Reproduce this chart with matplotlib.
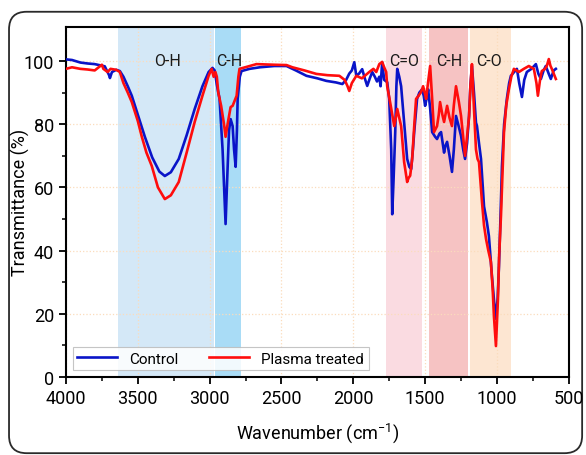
import numpy as np
import matplotlib
matplotlib.use('Agg')
import matplotlib.pyplot as plt
from matplotlib.patches import FancyBboxPatch

plt.rcParams['font.family'] = ['Roboto', 'DejaVu Sans']
plt.rcParams['mathtext.fontset'] = 'custom'
plt.rcParams['mathtext.rm'] = 'Roboto'

# Control spectrum (wavenumber, transmittance)
wn_control = [4000, 3958, 3900, 3850, 3800, 3760, 3730, 3700, 3694, 3680, 3650, 3625, 3600, 3570,
              3542, 3500, 3451, 3400, 3350, 3312, 3270, 3215, 3160, 3104, 3050, 3007, 2980, 2965,
              2950, 2931, 2910, 2895, 2889, 2880, 2865, 2854, 2840, 2830, 2819, 2810, 2805, 2790,
              2778, 2722, 2650, 2550, 2465, 2400, 2326, 2250, 2188, 2120, 2076, 2050, 2028, 2010,
              1993, 1979, 1960, 1938, 1920, 1903, 1885, 1868, 1850, 1835, 1819, 1810, 1799, 1785,
              1764, 1750, 1736, 1729, 1720, 1708, 1700, 1694, 1680, 1667, 1646, 1625, 1610, 1597,
              1585, 1576, 1556, 1540, 1521, 1510, 1500, 1490, 1479, 1465, 1451, 1430, 1417, 1400,
              1389, 1375, 1368, 1360, 1347, 1330, 1313, 1300, 1285, 1270, 1250, 1235, 1222, 1208,
              1194, 1185, 1174, 1160, 1146, 1139, 1125, 1111, 1100, 1090, 1070, 1056, 1035, 1020,
              1007, 995, 986, 975, 965, 950, 931, 915, 903, 880, 861, 845, 826, 810, 792, 760,
              729, 712, 694, 675, 660, 640, 625, 605, 590]
t_control = [100.5, 100.3, 99.5, 99.2, 99.0, 98.6, 98.3, 95.5, 94.6, 96.5, 97.2, 96.8, 95.0, 92.0,
             89.0, 83.0, 76.0, 69.5, 65.0, 63.6, 64.8, 69.0, 76.5, 84.8, 92.0, 96.5, 97.8, 97.0,
             92.5, 88.0, 72.0, 55.0, 48.4, 60.0, 78.0, 81.6, 79.4, 72.0, 66.5, 78.0, 88.0, 95.0,
             96.8, 97.5, 98.0, 98.4, 98.4, 97.0, 95.3, 94.5, 93.7, 93.2, 92.7, 94.0, 96.0, 97.0,
             99.6, 95.3, 96.0, 97.4, 94.5, 92.1, 94.5, 96.5, 95.0, 93.5, 95.0, 92.0, 99.6, 94.0,
             93.3, 88.0, 72.0, 51.5, 62.0, 77.5, 92.0, 97.5, 95.0, 92.0, 80.7, 69.0, 66.5, 65.8,
             72.0, 77.5, 88.0, 90.0, 91.0, 89.0, 85.8, 88.0, 91.0, 85.0, 77.5, 76.0, 75.3, 77.0,
             77.5, 73.0, 71.0, 73.0, 74.4, 70.0, 64.9, 72.0, 82.6, 80.0, 76.3, 72.0, 69.0, 74.0,
             82.6, 92.0, 98.4, 90.0, 80.5, 79.4, 74.0, 69.0, 61.0, 54.0, 49.0, 44.6, 32.0, 24.0,
             18.4, 25.0, 35.0, 51.0, 66.8, 80.0, 88.0, 93.0, 95.3, 96.5, 97.5, 93.0, 88.6, 94.0,
             96.5, 97.5, 99.0, 96.0, 94.3, 97.0, 98.4, 96.0, 94.3, 97.0, 97.5]

# Plasma treated spectrum
wn_plasma = [4000, 3958, 3900, 3850, 3800, 3750, 3740, 3710, 3690, 3650, 3625, 3600, 3570, 3542,
             3500, 3472, 3440, 3403, 3360, 3312, 3270, 3215, 3160, 3104, 3050, 3007, 2986, 2972,
             2960, 2950, 2940, 2920, 2900, 2889, 2875, 2854, 2840, 2812, 2800, 2792, 2674, 2550,
             2465, 2424, 2340, 2257, 2180, 2097, 2060, 2040, 2028, 2010, 1979, 1940, 1889, 1860,
             1840, 1819, 1799, 1785, 1771, 1764, 1740, 1715, 1704, 1694, 1680, 1667, 1646, 1625,
             1615, 1604, 1590, 1575, 1563, 1545, 1528, 1514, 1500, 1493, 1480, 1465, 1451, 1438,
             1417, 1405, 1396, 1380, 1368, 1347, 1330, 1313, 1300, 1285, 1265, 1250, 1235, 1222,
             1208, 1194, 1185, 1174, 1160, 1146, 1135, 1125, 1115, 1104, 1090, 1076, 1060, 1042,
             1030, 1021, 1007, 993, 985, 972, 951, 935, 917, 900, 882, 847, 813, 778, 743, 725,
             715, 700, 688, 665, 653, 639, 628, 618, 605, 590]
t_plasma = [97.5, 98.0, 97.5, 97.3, 97.0, 98.8, 97.5, 96.5, 97.5, 97.2, 96.5, 93.0, 90.0, 87.0,
            81.0, 76.0, 71.0, 66.8, 60.0, 56.3, 57.5, 61.7, 71.0, 80.7, 89.0, 95.3, 97.5, 95.0,
            96.5, 95.0, 90.0, 85.8, 80.0, 76.0, 80.0, 85.4, 85.8, 89.0, 95.0, 97.5, 99.0, 98.8,
            98.7, 98.0, 97.0, 95.9, 95.5, 95.3, 94.0, 92.0, 90.5, 93.0, 95.3, 94.5, 96.5, 97.5,
            96.5, 99.0, 99.7, 98.0, 96.5, 92.0, 86.0, 79.4, 82.0, 84.8, 82.0, 79.4, 68.0, 61.7,
            63.0, 63.7, 69.0, 80.0, 88.0, 89.0, 90.2, 92.0, 89.5, 88.0, 93.0, 98.4, 88.0, 77.5,
            79.4, 83.0, 87.0, 83.0, 80.7, 85.8, 82.0, 79.4, 86.0, 92.0, 87.0, 82.6, 76.0, 70.0,
            76.0, 82.6, 92.0, 99.0, 85.0, 72.0, 69.0, 68.0, 62.0, 55.3, 48.0, 43.7, 40.0, 36.4,
            28.0, 19.3, 9.8, 24.7, 38.0, 51.0, 77.5, 86.0, 91.0, 95.0, 97.5, 96.5, 97.5, 98.4,
            97.5, 93.0, 89.0, 94.0, 96.8, 97.5, 98.4, 100.6, 98.5, 97.5, 96.0, 94.3]

# shaded bands: (start, end, colour, label)
band_lo = [3640, 2960, 1770, 1470, 1185]
band_hi = [2970, 2780, 1525, 1200, 905]
band_col = ['#d4e8f7', '#a9dcf6', '#fadbe1', '#f6c3c3', '#fde6d2']
band_lab = ['O-H', 'C-H', 'C=O', 'C-H', 'C-O']
band_lab_x = [3290, 2862, 1648, 1335, 1058]

fig = plt.figure(figsize=(5.86, 4.56), dpi=100)
ax = fig.add_axes([0.1126, 0.171, 0.858, 0.768])

# outer rounded frame
frame = FancyBboxPatch((0.0154, 0.004), 0.978, 0.968,
                       boxstyle='round,pad=0,rounding_size=0.03', mutation_aspect=586 / 456,
                       transform=fig.transFigure, facecolor='none', edgecolor='#2a2a2a',
                       linewidth=1.3, zorder=-5)
fig.patches.append(frame)

for lo, hi, c, lab, lx in zip(band_lo, band_hi, band_col, band_lab, band_lab_x):
    ax.axvspan(hi, lo, color=c, lw=0, zorder=0)
    ax.text(lx, 100, lab, ha='center', va='center', fontsize=11.5, color='#1a1a1a', zorder=3)

ax.plot(wn_control, t_control, color='#0a14c8', lw=1.9, label='Control', zorder=4)
ax.plot(wn_plasma, t_plasma, color='#ff0d0d', lw=1.9, label='Plasma treated', zorder=5)

ax.set_xlim(4000, 500)
ax.set_ylim(0, 110.8)
ax.set_xticks(np.arange(4000, 499, -500))
ax.set_xticks(np.arange(4000, 499, -250), minor=True)
ax.set_yticks(np.arange(0, 101, 20))
ax.set_yticks(np.arange(0, 101, 10), minor=True)
ax.grid(True, which='major', color='#fbdcbc', linestyle=':', linewidth=0.9, zorder=1)
ax.set_axisbelow(True)

ax.tick_params(which='major', direction='out', length=5, width=1.3, labelsize=13)
ax.tick_params(which='minor', direction='out', length=3, width=1.1)
for s in ax.spines.values():
    s.set_linewidth(1.5)

ax.set_xlabel('Wavenumber (cm$^{-1}$)', fontsize=13, labelpad=10)
ax.set_ylabel('Transmittance (%)', fontsize=13)
ax.yaxis.set_label_coords(-0.072, 0.5)

leg = ax.legend(loc='lower left', ncol=2, fontsize=11, frameon=True, fancybox=False,
                edgecolor='#bbbbbb', framealpha=0.85, borderaxespad=0.45,
                handlelength=2.6, columnspacing=2.0, borderpad=0.3)
leg.get_frame().set_linewidth(0.8)

fig.savefig('out.png', dpi=100)
